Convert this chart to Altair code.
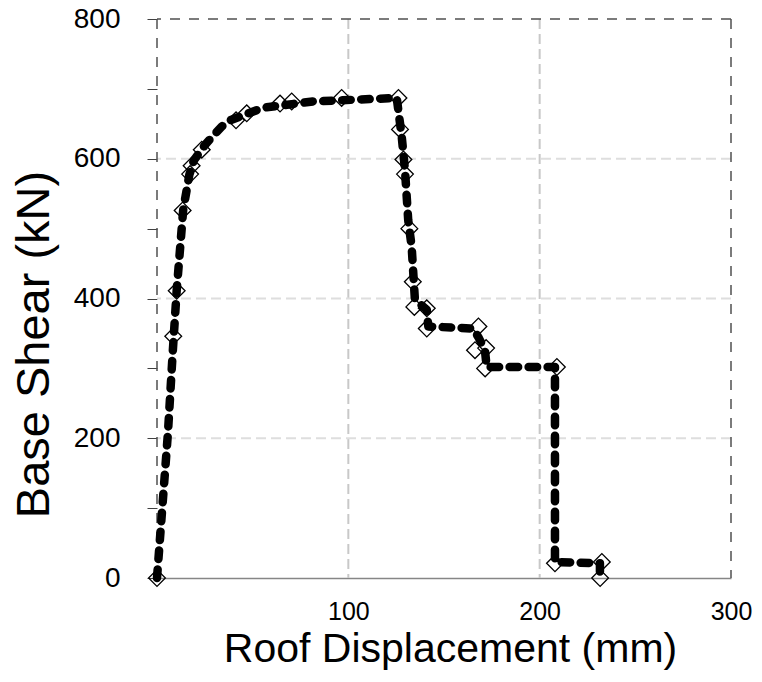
import altair as alt
import pandas as pd

# Pushover curve: roof displacement (mm) vs base shear (kN), in drawing order
curve_disp = [0, 5.7, 8.2, 10.3, 13.7, 16.9, 19.3, 25.1, 33.8, 38.2, 55.4, 81.5,
              125.3, 126.1, 127.9, 129.6, 131.3, 133.1, 134.8, 141.0, 141.8,
              165.2, 167.9, 171.4, 172.3, 208.0, 208.0, 231.5, 231.5]
curve_shear = [0, 207, 322, 412, 527, 577, 598, 620, 646, 655, 673, 682,
               687, 670, 632, 584, 512, 474, 398, 384, 360,
               357, 345, 326, 302, 302, 23, 21, 0]

# Analysis step points (hollow diamonds)
step_disp = [0, 8.5, 10.3, 13.4, 17.3, 18.1, 23.4, 41.3, 46.9, 64.3, 70.4, 96.5,
             126.2, 127.0, 128.8, 129.6, 131.9, 133.7, 134.5, 141.0, 141.0,
             168.0, 166.2, 172.0, 171.5, 209.0, 208.0, 232.5, 231.6]
step_shear = [0, 346, 411, 526, 578, 590, 613, 655, 665, 679, 682, 687,
              687, 642, 599, 578, 500, 424, 388, 386, 357,
              360, 326, 329, 300, 302, 21, 23, 0]

x_grid = [100, 200]
y_grid = [200, 400, 600]
x_frame = [0, 300]
y_frame = [800]

x_ticks = [0, 100, 200, 300]
y_ticks = [0, 100, 200, 300, 400, 500, 600, 700, 800]

curve = pd.DataFrame({"x": curve_disp, "y": curve_shear, "i": range(len(curve_disp))})
steps = pd.DataFrame({"x": step_disp, "y": step_shear})

FONT = "Liberation Sans"

x_axis = alt.Axis(
    values=x_ticks,
    labelExpr="datum.value == 0 ? '' : datum.label",
    ticks=False,
    grid=False,
    domainColor="#868686",
    domainWidth=1.5,
    labelFontSize=25,
    labelFont=FONT,
    labelColor="black",
    labelPadding=21,
    labelFlush=False,
    labelOverlap=False,
    title="Roof Displacement (mm)",
    titleFont=FONT,
    titleFontSize=41,
    titleFontWeight="normal",
    titleColor="black",
    titleX=293,
    titleY=83,
    titleBaseline="alphabetic",
)

y_axis = alt.Axis(
    values=y_ticks,
    labelExpr="datum.value % 200 == 0 ? datum.label : ''",
    tickSize=10,
    tickColor="#404040",
    tickWidth=1,
    domain=False,
    grid=False,
    labelFontSize=28,
    labelFont=FONT,
    labelColor="black",
    labelPadding=27,
    labelFlush=False,
    labelOverlap=False,
    title="Base Shear (kN)",
    titleFont=FONT,
    titleFontSize=47,
    titleFontWeight="normal",
    titleColor="black",
    titleX=-123,
    titleY=325,
    titleBaseline="middle",
    titleAlign="center",
)

xs = alt.Scale(domain=[0, 300], nice=False, zero=False)
ys = alt.Scale(domain=[0, 800], nice=False, zero=False)

def X():
    return alt.X("x:Q", scale=xs, axis=x_axis)

def Y():
    return alt.Y("y:Q", scale=ys, axis=y_axis)

xgrid = alt.Chart(pd.DataFrame({"x": x_grid})).mark_rule(
    color="#c8c8c8", strokeDash=[10, 5], strokeWidth=2
).encode(x=X())

ygrid = alt.Chart(pd.DataFrame({"y": y_grid})).mark_rule(
    color="#dedede", strokeDash=[10, 5], strokeWidth=2
).encode(y=Y())

xframe = alt.Chart(pd.DataFrame({"x": x_frame})).mark_rule(
    color="#505050", strokeDash=[10, 9], strokeWidth=1.5
).encode(x=X())

yframe = alt.Chart(pd.DataFrame({"y": y_frame})).mark_rule(
    color="#505050", strokeDash=[10, 9], strokeWidth=1.5
).encode(y=Y())

diamonds = alt.Chart(steps).mark_point(
    shape="diamond", filled=False, stroke="black", strokeWidth=1.3, size=280, opacity=1
).encode(x=X(), y=Y())

line = alt.Chart(curve).mark_line(
    color="black", strokeWidth=8.5, strokeDash=[8.5, 10.5], strokeCap="round", strokeJoin="round"
).encode(x=X(), y=Y(), order="i:Q")

chart = alt.layer(xgrid, ygrid, xframe, yframe, diamonds, line).properties(
    width=574,
    height=559,
    padding={"left": 157, "top": 19, "right": 31, "bottom": 104},
    autosize=alt.AutoSizeParams(type="none"),
    background="white",
).configure_view(stroke=None)

chart.save("out.html", embed_options={"renderer": "svg", "actions": False})
